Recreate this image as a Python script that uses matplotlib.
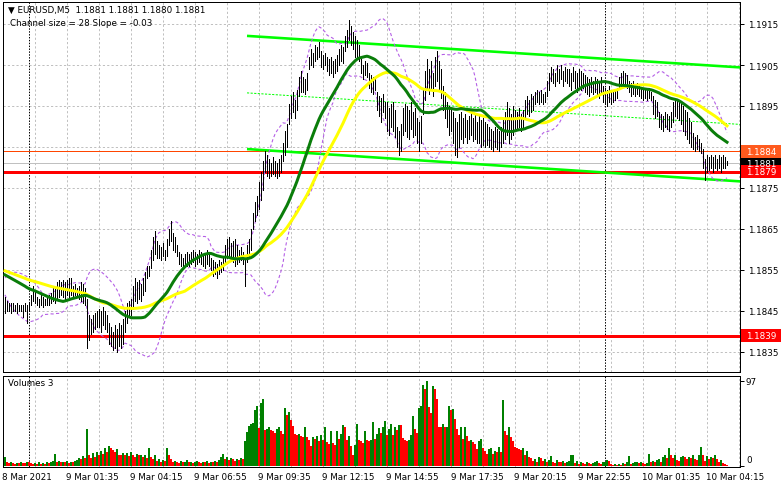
import numpy as np
import pandas as pd
import matplotlib
matplotlib.use("Agg")
import matplotlib.pyplot as plt
from matplotlib.patches import Rectangle

# ---------------- data (EURUSD M5) ----------------
high = [
 1.18485,1.18475,1.18470,1.18470,1.18470,1.18465,1.18470,1.18465,1.18465,1.18465,
 1.18470,1.18465,1.18470,1.18490,1.18510,1.18500,1.18485,1.18480,1.18490,1.18485,
 1.18480,1.18485,1.18490,1.18495,1.18510,1.18505,1.18520,1.18525,1.18520,1.18525,
 1.18520,1.18525,1.18530,1.18530,1.18510,1.18515,1.18505,1.18510,1.18520,1.18515,
 1.18505,1.18480,1.18440,1.18430,1.18440,1.18445,1.18450,1.18455,1.18450,1.18460,
 1.18450,1.18440,1.18420,1.18410,1.18400,1.18415,1.18405,1.18420,1.18415,1.18430,
 1.18450,1.18470,1.18475,1.18480,1.18510,1.18530,1.18520,1.18525,1.18515,1.18530,
 1.18545,1.18560,1.18560,1.18600,1.18630,1.18645,1.18620,1.18610,1.18605,1.18615,
 1.18600,1.18625,1.18650,1.18670,1.18640,1.18630,1.18610,1.18595,1.18590,1.18580,
 1.18590,1.18595,1.18590,1.18595,1.18600,1.18595,1.18590,1.18600,1.18595,1.18585,
 1.18590,1.18600,1.18590,1.18580,1.18575,1.18570,1.18565,1.18575,1.18570,1.18585,
 1.18610,1.18625,1.18630,1.18615,1.18620,1.18625,1.18610,1.18600,1.18605,1.18595,
 1.18580,1.18610,1.18625,1.18650,1.18690,1.18715,1.18730,1.18765,1.18790,1.18815,
 1.18840,1.18830,1.18820,1.18810,1.18825,1.18815,1.18810,1.18820,1.18830,1.18860,
 1.18890,1.18905,1.18955,1.18975,1.18985,1.18965,1.18990,1.19020,1.19035,1.19020,
 1.19015,1.19030,1.19070,1.19090,1.19080,1.19100,1.19095,1.19105,1.19085,1.19075,
 1.19080,1.19070,1.19065,1.19070,1.19060,1.19065,1.19075,1.19090,1.19100,1.19095,
 1.19120,1.19135,1.19160,1.19145,1.19130,1.19120,1.19110,1.19100,1.19065,1.19050,
 1.19060,1.19055,1.19030,1.19025,1.19020,1.19015,1.18985,1.18975,1.18970,1.18980,
 1.18960,1.18960,1.18945,1.18955,1.18960,1.18940,1.18900,1.18890,1.18905,1.18945,
 1.18955,1.18950,1.18940,1.18960,1.18935,1.18945,1.18920,1.18910,1.18925,1.18995,
 1.19035,1.19065,1.19040,1.19060,1.19030,1.19070,1.19085,1.19060,1.19040,1.19000,
 1.18985,1.18960,1.18950,1.18945,1.18935,1.18920,1.18910,1.18930,1.18935,1.18920,
 1.18930,1.18915,1.18925,1.18935,1.18920,1.18930,1.18910,1.18925,1.18915,1.18920,
 1.18910,1.18905,1.18900,1.18895,1.18890,1.18900,1.18895,1.18890,1.18900,1.18920,
 1.18935,1.18960,1.18945,1.18930,1.18950,1.18940,1.18935,1.18945,1.18930,1.18940,
 1.18965,1.18975,1.18965,1.18980,1.18975,1.18985,1.18990,1.18985,1.18990,1.18980,
 1.18985,1.19010,1.19030,1.19045,1.19040,1.19030,1.19050,1.19040,1.19050,1.19035,
 1.19045,1.19040,1.19040,1.19030,1.19045,1.19035,1.19030,1.19040,1.19035,1.19030,
 1.19025,1.19020,1.19015,1.19020,1.19010,1.19020,1.19015,1.19010,1.19020,1.19000,
 1.18995,1.18990,1.19000,1.18985,1.18985,1.18990,1.18995,1.19020,1.19030,1.19035,
 1.19030,1.19025,1.19010,1.19005,1.19010,1.19000,1.19005,1.19000,1.18995,1.18990,
 1.18995,1.18990,1.18995,1.18985,1.18975,1.18965,1.18960,1.18935,1.18930,1.18925,
 1.18935,1.18930,1.18925,1.18935,1.18960,1.18970,1.18965,1.18960,1.18955,1.18950,
 1.18940,1.18935,1.18920,1.18910,1.18885,1.18875,1.18880,1.18870,1.18860,1.18845,
 1.18820,1.18830,1.18825,1.18830,1.18825,1.18830,1.18820,1.18830,1.18825,1.18830,1.18825,1.18815]

low = [
 1.18445,1.18450,1.18450,1.18445,1.18450,1.18450,1.18445,1.18450,1.18450,1.18435,
 1.18450,1.18420,1.18450,1.18465,1.18475,1.18470,1.18465,1.18460,1.18465,1.18460,
 1.18465,1.18465,1.18465,1.18470,1.18475,1.18470,1.18480,1.18485,1.18490,1.18485,
 1.18480,1.18490,1.18485,1.18490,1.18485,1.18490,1.18485,1.18480,1.18475,1.18470,
 1.18465,1.18360,1.18380,1.18395,1.18400,1.18405,1.18410,1.18410,1.18400,1.18415,
 1.18405,1.18400,1.18370,1.18365,1.18355,1.18360,1.18350,1.18365,1.18360,1.18370,
 1.18400,1.18420,1.18435,1.18440,1.18455,1.18475,1.18470,1.18480,1.18475,1.18490,
 1.18500,1.18530,1.18535,1.18555,1.18575,1.18590,1.18580,1.18580,1.18575,1.18585,
 1.18575,1.18585,1.18610,1.18620,1.18600,1.18595,1.18585,1.18565,1.18560,1.18555,
 1.18565,1.18560,1.18560,1.18565,1.18570,1.18560,1.18565,1.18570,1.18565,1.18560,
 1.18555,1.18565,1.18560,1.18550,1.18535,1.18540,1.18530,1.18540,1.18545,1.18550,
 1.18570,1.18580,1.18585,1.18575,1.18570,1.18560,1.18565,1.18570,1.18575,1.18565,
 1.18510,1.18570,1.18585,1.18600,1.18650,1.18670,1.18685,1.18700,1.18720,1.18745,
 1.18790,1.18780,1.18775,1.18780,1.18785,1.18780,1.18775,1.18780,1.18790,1.18815,
 1.18830,1.18850,1.18905,1.18920,1.18935,1.18920,1.18940,1.18975,1.18985,1.18985,
 1.18980,1.18990,1.19040,1.19050,1.19045,1.19060,1.19065,1.19070,1.19045,1.19040,
 1.19050,1.19035,1.19025,1.19030,1.19020,1.19030,1.19035,1.19050,1.19060,1.19055,
 1.19085,1.19095,1.19110,1.19100,1.19090,1.19070,1.19065,1.19060,1.19030,1.19015,
 1.19025,1.19020,1.18995,1.18985,1.18980,1.18990,1.18940,1.18925,1.18910,1.18935,
 1.18920,1.18890,1.18880,1.18900,1.18890,1.18875,1.18850,1.18830,1.18840,1.18880,
 1.18890,1.18875,1.18870,1.18895,1.18875,1.18880,1.18860,1.18840,1.18860,1.18930,
 1.18965,1.18990,1.18980,1.18990,1.18975,1.19000,1.19010,1.18990,1.18970,1.18940,
 1.18920,1.18900,1.18880,1.18890,1.18860,1.18830,1.18825,1.18850,1.18870,1.18860,
 1.18875,1.18860,1.18870,1.18880,1.18865,1.18870,1.18860,1.18860,1.18850,1.18855,
 1.18850,1.18855,1.18850,1.18845,1.18840,1.18850,1.18845,1.18840,1.18850,1.18860,
 1.18870,1.18880,1.18860,1.18870,1.18880,1.18890,1.18895,1.18900,1.18890,1.18895,
 1.18920,1.18930,1.18925,1.18935,1.18940,1.18955,1.18960,1.18955,1.18960,1.18955,
 1.18960,1.18975,1.18990,1.19010,1.19005,1.19000,1.19010,1.19005,1.19015,1.19000,
 1.19010,1.19005,1.19000,1.18990,1.19010,1.18995,1.18985,1.19000,1.18990,1.18995,
 1.18985,1.18980,1.18975,1.18985,1.18980,1.18985,1.18975,1.18970,1.18980,1.18960,
 1.18955,1.18950,1.18960,1.18955,1.18960,1.18965,1.18970,1.18995,1.19000,1.19005,
 1.19000,1.18995,1.18985,1.18975,1.18980,1.18975,1.18980,1.18975,1.18970,1.18965,
 1.18970,1.18965,1.18970,1.18965,1.18930,1.18920,1.18925,1.18900,1.18895,1.18890,
 1.18900,1.18895,1.18890,1.18900,1.18910,1.18925,1.18920,1.18915,1.18905,1.18890,
 1.18880,1.18870,1.18860,1.18850,1.18845,1.18840,1.18845,1.18840,1.18835,1.18800,
 1.18770,1.18790,1.18795,1.18800,1.18790,1.18800,1.18795,1.18800,1.18790,1.18800,1.18800,1.18805]

volume = [
 10,4,3,5,3,2,3,3,5,3, 3,5,5,3,2,3,2,4,2,3, 2,4,3,4,6,14,4,6,4,5, 4,6,3,5,4,6,7,9,8,11,
 9,42,12,9,15,10,16,12,17,14, 20,16,23,20,18,16,19,13,12,15, 13,15,11,16,12,10,14,12,13,10,
 12,9,20,10,8,12,6,8,5,7, 6,20,12,8,5,6,4,3,6,4, 5,7,4,5,3,4,6,4,3,5,
 4,6,3,5,4,6,5,7,10,14, 8,10,7,9,8,6,8,7,9,8, 28,39,46,48,49,64,69,43,72,77,
 41,42,44,41,40,38,42,45,40,36, 66,58,62,53,46,36,35,37,34,33, 45,33,30,23,33,31,34,29,35,30,
 44,27,25,40,26,24,40,31,37,47, 45,30,34,23,13,24,48,30,28,26, 40,30,28,30,50,31,36,43,38,44,
 51,35,42,48,35,45,41,47,47,32, 30,28,30,35,57,42,38,66,68,92, 88,97,67,61,91,88,77,45,44,48,
 44,45,69,64,65,54,42,35,45,31, 44,34,28,30,27,25,19,28,31,21, 17,14,19,21,14,17,16,22,16,75,
 40,35,45,33,28,22,20,19,18,20, 13,17,10,9,6,8,5,10,9,6, 8,4,7,11,5,3,7,5,4,6,
 3,5,6,12,13,3,6,2,4,3, 2,4,3,2,3,5,6,3,2,4, 5,7,6,2,1,2,1,2,1,3,
 2,4,11,2,3,4,5,3,4,3, 2,3,14,4,6,5,7,8,4,10, 13,9,21,12,9,13,7,6,10,11,
 10,8,10,9,12,8,7,13,22,12, 6,11,8,10,9,13,8,5,7,3,2,1]

time_labels = ["8 Mar 2021", "9 Mar 01:35", "9 Mar 04:15", "9 Mar 06:55", "9 Mar 09:35",
               "9 Mar 12:15", "9 Mar 14:55", "9 Mar 17:35", "9 Mar 20:15", "9 Mar 22:55",
               "10 Mar 01:35", "10 Mar 04:15"]
time_label_bars = [-1, 31, 63, 95, 127, 159, 191, 223, 255, 287, 319, 351]
day_separator_bars = [12, 300]
price_ticks = [1.1835, 1.1845, 1.1855, 1.1865, 1.1875, 1.1885, 1.1895, 1.1905, 1.1915]

ma_green_period, ma_green_start = 30, 1.18538
ma_yellow_period, ma_yellow_start = 50, 1.18548
bb_period, bb_mid_start = 20, 1.18510

channel_bars = [121, 368]
channel_upper = [1.19121, 1.19044]
channel_mid = [1.18982, 1.18905]
channel_lower = [1.18845, 1.18766]

level_red = [1.1879, 1.1839]
level_orange = 1.1884
bid = 1.1881

header1 = "\u25bc EURUSD,M5  1.1881 1.1881 1.1880 1.1881"
header2 = "Channel size = 28 Slope = -0.03"

# ---------------- helpers ----------------
W, H = 781, 489
PX = 0.72  # one pixel in points at dpi 100
FONT = "DejaVu Sans"
FS = 6.3

hi = np.array(high); lo = np.array(low); vol = np.array(volume, dtype=float)
n = len(hi)
med = (hi + lo) / 2.0
idx = np.arange(n)

def padded_sma(values, period, start):
    pad = (period * start - values[0]) / (period - 1)
    s = pd.Series(np.concatenate([np.full(period - 1, pad), values]))
    return s.rolling(period).mean().to_numpy()[period - 1:]

ma_green = padded_sma(med, ma_green_period, ma_green_start)
ma_yellow = padded_sma(med, ma_yellow_period, ma_yellow_start)
pad = (bb_period * bb_mid_start - med[0]) / (bb_period - 1)
sb = pd.Series(np.concatenate([np.full(bb_period - 1, pad), med]))
bb_mid = sb.rolling(bb_period).mean().to_numpy()[bb_period - 1:]
bb_sd = sb.rolling(bb_period).std(ddof=0).to_numpy()[bb_period - 1:]
bb_up = bb_mid + 2 * bb_sd
bb_dn = bb_mid - 2 * bb_sd

def px_rect(l, t, r, b):
    return [l / W, 1 - b / H, (r - l) / W, (b - t) / H]

fig = plt.figure(figsize=(W / 100, H / 100), dpi=100)
fig.patch.set_facecolor("white")
ax = fig.add_axes(px_rect(3, 3, 740, 373))
axv = fig.add_axes(px_rect(3, 377, 740, 468))

XL = (-1.0, 367.5)
px_per_unit_price = 41 / 0.001
y_top = 1.1915 + 22 / px_per_unit_price
y_bot = 1.1915 - 348 / px_per_unit_price

grid_kw = dict(color="#C0C0C0", lw=PX, dashes=(3 * PX, 3 * PX), zorder=0)
for a in (ax, axv):
    a.set_xlim(*XL)
    a.set_facecolor("white")
    for s in a.spines.values():
        s.set_color("black"); s.set_linewidth(PX * 1.0)
    for g in range(15, 368, 16):
        a.axvline(g, **grid_kw)
    for d in day_separator_bars:
        a.axvline(d, color="black", lw=PX, dashes=(2 * PX, 2 * PX), zorder=1)
    a.set_xticks([])

ax.set_ylim(y_bot, y_top)
for p in price_ticks:
    ax.axhline(p, **grid_kw)

# price axis ticks on right
ax.yaxis.tick_right()
ax.set_yticks(price_ticks)
ax.set_yticklabels([f"{p:.4f}" for p in price_ticks], fontsize=FS, family=FONT)
ax.tick_params(axis="y", length=3, width=PX, pad=3, colors="black")

# levels
for lv in level_red:
    ax.axhline(lv, color="#FF0000", lw=3 * PX, zorder=2)
ax.axhline(level_orange, color="#FF4500", lw=1 * PX, zorder=2)
ax.axhline(bid, color="#C0C0C0", lw=1 * PX, zorder=2)

# channel
ax.plot(channel_bars, channel_upper, color="#00FF00", lw=2.6 * PX, zorder=3, solid_capstyle="butt")
ax.plot(channel_bars, channel_lower, color="#00FF00", lw=2.6 * PX, zorder=3, solid_capstyle="butt")
ax.plot(channel_bars, channel_mid, color="#00FF00", lw=1 * PX, dashes=(3 * PX, 2 * PX), zorder=3)

# bollinger
ax.plot(idx, bb_up, color="#B45EE6", lw=1.1 * PX, dashes=(4 * PX, 3 * PX), zorder=3)
ax.plot(idx, bb_dn, color="#B45EE6", lw=1.1 * PX, dashes=(4 * PX, 3 * PX), zorder=3)

# bars
ax.vlines(idx, lo, hi, color="black", lw=1.0 * PX, zorder=4, antialiased=False)

# moving averages
ax.plot(idx, ma_yellow, color="#FFFF00", lw=3 * PX, zorder=5)
ax.plot(idx, ma_green, color="#0A7D0A", lw=3 * PX, zorder=6)

# price labels boxes
box_h = 13 / px_per_unit_price
trans = ax.get_yaxis_transform()
def price_box(price, face, txt):
    x0 = (741 - 3) / 737.0
    x1 = (781 - 3) / 737.0
    ax.add_patch(Rectangle((x0, price - box_h / 2), x1 - x0, box_h, transform=trans,
                           facecolor=face, edgecolor="none", clip_on=False, zorder=20))
    ax.text((746 - 3) / 737.0, price, txt, transform=trans, color="white", fontsize=FS,
            family=FONT, va="center", ha="left", clip_on=False, zorder=21)

price_box(bid, "black", f"{bid:.4f}")
price_box(level_orange, "#FF5A1E", f"{level_orange:.4f}")
price_box(level_red[0], "#FF0000", f"{level_red[0]:.4f}")
price_box(level_red[1], "#FF0000", f"{level_red[1]:.4f}")

# header
fig.text(8 / W, 1 - 10 / H, header1, fontsize=FS, family=FONT, va="center", ha="left")
fig.text(10 / W, 1 - 24 / H, header2, fontsize=FS, family=FONT, va="center", ha="left")

# volumes (MT4 Volumes: green when volume rises vs previous bar, red otherwise)
vcol = ["#008000"] + ["#008000" if vol[i] > vol[i - 1] else "#FF0000" for i in range(1, n)]
axv.bar(idx, vol, width=1.0, color=vcol, linewidth=0, zorder=3, antialiased=False)
vmax_px = 85.0
axv.set_ylim(-1.0 * 97 / vmax_px, (467 - 377) * 97 / vmax_px)
axv.yaxis.tick_right()
axv.set_yticks([0, 97])
axv.set_yticklabels(["", ""])
axv.tick_params(axis="y", length=3, width=PX)
fig.text(746 / W, 1 - 383 / H, "97", fontsize=FS, family=FONT, va="center", ha="left")
fig.text(746 / W, 1 - 461 / H, "0", fontsize=FS, family=FONT, va="center", ha="left")
fig.text(8 / W, 1 - 384 / H, "Volumes 3", fontsize=FS, family=FONT, va="center", ha="left")

# time labels
for b, t in zip(time_label_bars, time_labels):
    xpx = 5 + 2 * b
    fig.text((max(xpx, 3) - 0.5) / W, 1 - 478 / H, t, fontsize=FS, family=FONT, va="center", ha="left")

fig.savefig("out.png", dpi=100, facecolor="white")
